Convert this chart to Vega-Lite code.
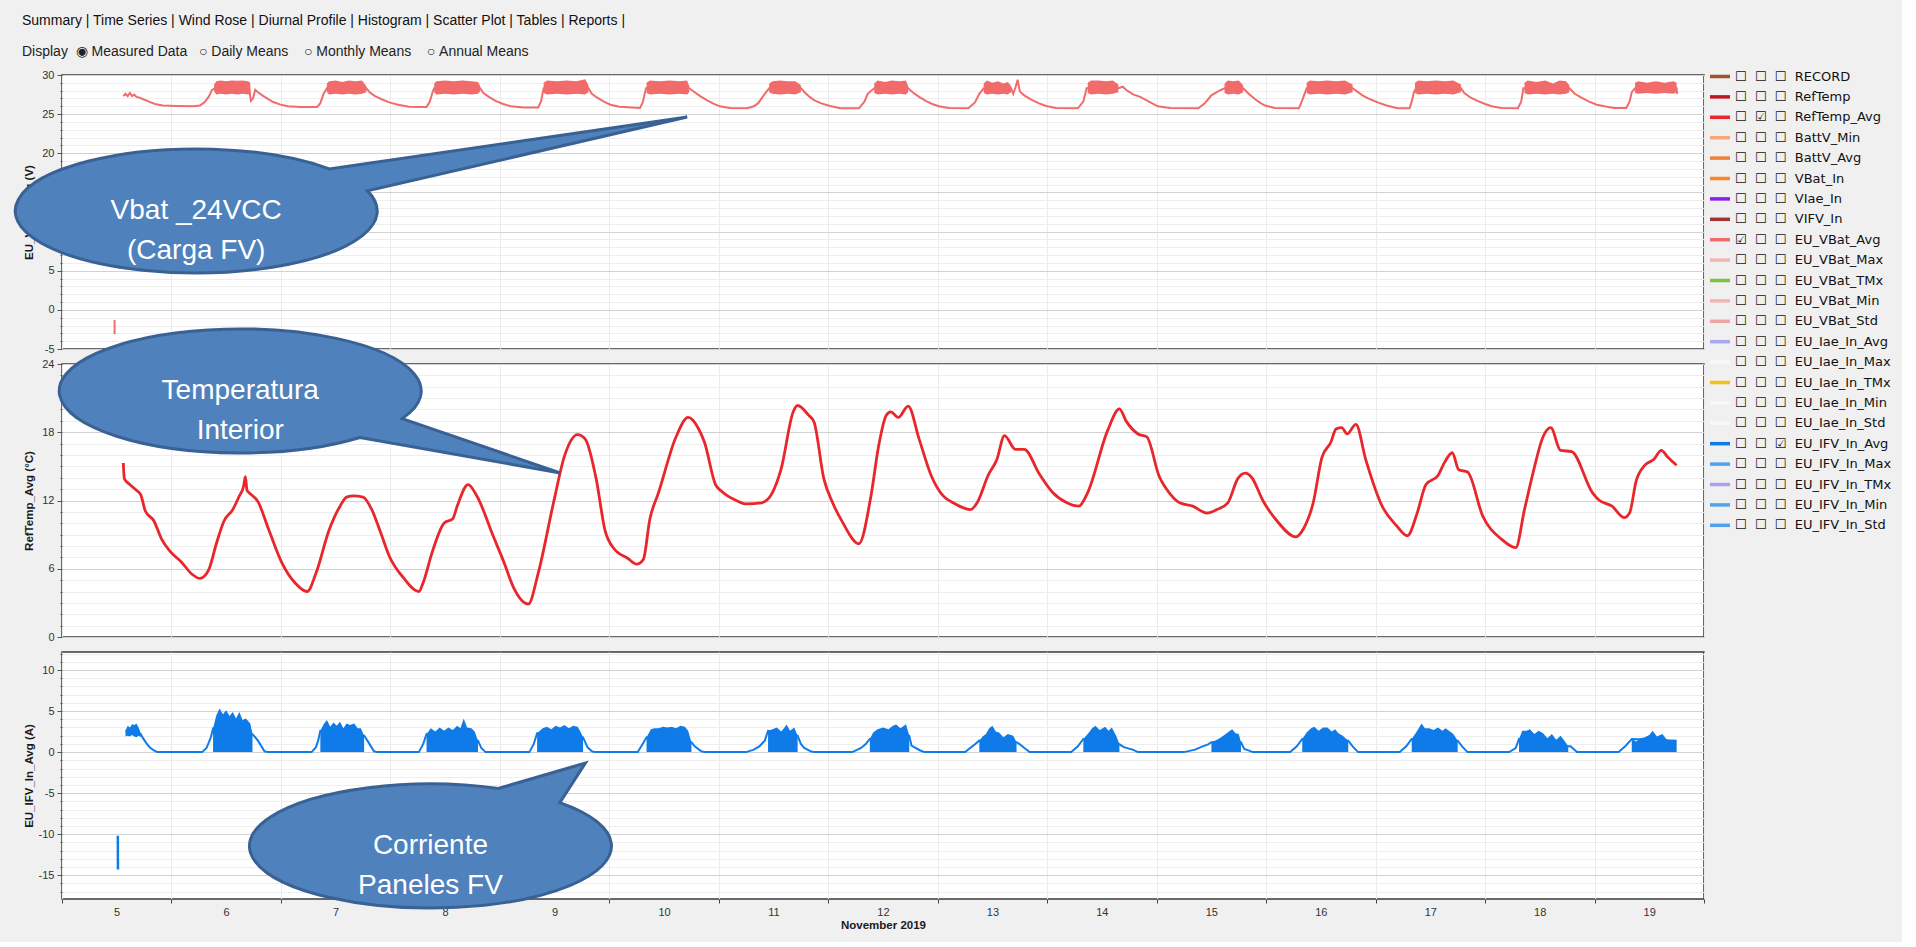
{
"$schema": "https://vega.github.io/schema/vega-lite/v6.json",
"padding": {"left": 8, "top": 14, "right": 10, "bottom": 10},
"background": "#f0f0f0",
"title": {"text": "Summary | Time Series | Wind Rose | Diurnal Profile | Histogram | Scatter Plot | Tables | Reports |", "subtitle": "Display\u00a0\u00a0◉\u00a0Measured Data\u00a0\u00a0\u00a0○\u00a0Daily Means\u00a0\u00a0\u00a0\u00a0○\u00a0Monthly Means\u00a0\u00a0\u00a0\u00a0○\u00a0Annual Means", "anchor": "start", "frame": "group", "dx": -40, "offset": 5.5, "subtitlePadding": 17, "font": "Liberation Sans", "fontSize": 14, "fontWeight": "normal", "color": "#111111", "subtitleFont": "Liberation Sans", "subtitleFontSize": 14, "subtitleColor": "#222222"},
"datasets": {
"series_list": [{"s":"RECORD"},{"s":"RefTemp"},{"s":"RefTemp_Avg"},{"s":"BattV_Min"},{"s":"BattV_Avg"},{"s":"VBat_In"},{"s":"VIae_In"},{"s":"VIFV_In"},{"s":"EU_VBat_Avg"},{"s":"EU_VBat_Max"},{"s":"EU_VBat_TMx"},{"s":"EU_VBat_Min"},{"s":"EU_VBat_Std"},{"s":"EU_Iae_In_Avg"},{"s":"EU_Iae_In_Max"},{"s":"EU_Iae_In_TMx"},{"s":"EU_Iae_In_Min"},{"s":"EU_Iae_In_Std"},{"s":"EU_IFV_In_Avg"},{"s":"EU_IFV_In_Max"},{"s":"EU_IFV_In_TMx"},{"s":"EU_IFV_In_Min"},{"s":"EU_IFV_In_Std"}],
"vbat": [{"d":5.56,"v":27.3},{"d":5.58,"v":27.6},{"d":5.6,"v":27.3},{"d":5.62,"v":27.7},{"d":5.64,"v":27.3},{"d":5.66,"v":27.5},{"d":5.68,"v":27.2},{"d":5.71,"v":27.1},{"d":5.74,"v":26.9},{"d":5.78,"v":26.7},{"d":5.82,"v":26.45},{"d":5.86,"v":26.25},{"d":5.92,"v":26.1},{"d":6.05,"v":26.05},{"d":6.2,"v":26.0},{"d":6.26,"v":26.1},{"d":6.3,"v":26.5},{"d":6.34,"v":27.2},{"d":6.37,"v":28.1},{"d":6.4,"v":28.3},{"d":6.71,"v":28.3},{"d":6.725,"v":26.7},{"d":6.745,"v":27.0},{"d":6.765,"v":28.1},{"d":6.79,"v":27.8},{"d":6.83,"v":27.4},{"d":6.88,"v":26.95},{"d":6.93,"v":26.55},{"d":6.99,"v":26.25},{"d":7.06,"v":26.0},{"d":7.18,"v":25.9},{"d":7.33,"v":25.9},{"d":7.36,"v":26.4},{"d":7.39,"v":27.6},{"d":7.42,"v":28.3},{"d":7.78,"v":28.3},{"d":7.81,"v":27.8},{"d":7.86,"v":27.3},{"d":7.92,"v":26.9},{"d":7.99,"v":26.5},{"d":8.07,"v":26.2},{"d":8.17,"v":25.95},{"d":8.33,"v":25.9},{"d":8.36,"v":26.6},{"d":8.385,"v":27.8},{"d":8.4,"v":28.3},{"d":8.82,"v":28.3},{"d":8.85,"v":27.7},{"d":8.9,"v":27.2},{"d":8.96,"v":26.7},{"d":9.03,"v":26.3},{"d":9.1,"v":26.0},{"d":9.22,"v":25.85},{"d":9.35,"v":25.85},{"d":9.375,"v":26.6},{"d":9.4,"v":28.3},{"d":9.81,"v":28.3},{"d":9.84,"v":27.6},{"d":9.89,"v":27.1},{"d":9.95,"v":26.6},{"d":10.01,"v":26.2},{"d":10.09,"v":25.95},{"d":10.28,"v":25.8},{"d":10.305,"v":26.5},{"d":10.335,"v":28.3},{"d":10.73,"v":28.3},{"d":10.77,"v":27.9},{"d":10.83,"v":27.3},{"d":10.89,"v":26.8},{"d":10.95,"v":26.35},{"d":11.01,"v":26.0},{"d":11.1,"v":25.8},{"d":11.26,"v":25.75},{"d":11.32,"v":26.0},{"d":11.36,"v":26.4},{"d":11.42,"v":27.6},{"d":11.46,"v":28.3},{"d":11.75,"v":28.3},{"d":11.79,"v":27.7},{"d":11.83,"v":27.2},{"d":11.87,"v":26.8},{"d":11.93,"v":26.4},{"d":12.0,"v":26.1},{"d":12.11,"v":25.75},{"d":12.28,"v":25.75},{"d":12.33,"v":26.6},{"d":12.36,"v":27.6},{"d":12.42,"v":28.3},{"d":12.73,"v":28.3},{"d":12.77,"v":27.8},{"d":12.83,"v":27.2},{"d":12.89,"v":26.7},{"d":12.95,"v":26.3},{"d":13.01,"v":26.0},{"d":13.1,"v":25.8},{"d":13.28,"v":25.75},{"d":13.34,"v":26.5},{"d":13.38,"v":27.6},{"d":13.42,"v":28.3},{"d":13.67,"v":28.3},{"d":13.69,"v":27.6},{"d":13.71,"v":28.4},{"d":13.73,"v":29.4},{"d":13.75,"v":27.9},{"d":13.79,"v":27.4},{"d":13.85,"v":26.9},{"d":13.92,"v":26.4},{"d":13.99,"v":26.05},{"d":14.08,"v":25.8},{"d":14.28,"v":25.75},{"d":14.33,"v":26.6},{"d":14.36,"v":28.3},{"d":14.65,"v":28.3},{"d":14.69,"v":28.5},{"d":14.73,"v":28.0},{"d":14.79,"v":27.5},{"d":14.85,"v":27.2},{"d":14.93,"v":26.6},{"d":15.01,"v":26.0},{"d":15.12,"v":25.8},{"d":15.38,"v":25.75},{"d":15.44,"v":26.4},{"d":15.5,"v":27.4},{"d":15.56,"v":27.9},{"d":15.62,"v":28.3},{"d":15.79,"v":28.3},{"d":15.84,"v":27.6},{"d":15.9,"v":26.9},{"d":15.95,"v":26.4},{"d":15.99,"v":26.1},{"d":16.08,"v":25.8},{"d":16.3,"v":25.75},{"d":16.33,"v":26.8},{"d":16.37,"v":28.3},{"d":16.79,"v":28.3},{"d":16.82,"v":28.0},{"d":16.88,"v":27.4},{"d":16.95,"v":26.9},{"d":17.02,"v":26.5},{"d":17.1,"v":26.1},{"d":17.2,"v":25.75},{"d":17.31,"v":25.75},{"d":17.33,"v":26.6},{"d":17.35,"v":27.8},{"d":17.37,"v":28.3},{"d":17.78,"v":28.3},{"d":17.81,"v":27.7},{"d":17.87,"v":27.1},{"d":17.93,"v":26.7},{"d":18.0,"v":26.3},{"d":18.06,"v":26.0},{"d":18.15,"v":25.8},{"d":18.3,"v":25.75},{"d":18.33,"v":26.6},{"d":18.35,"v":28.3},{"d":18.77,"v":28.3},{"d":18.82,"v":27.6},{"d":18.88,"v":27.1},{"d":18.95,"v":26.6},{"d":19.02,"v":26.2},{"d":19.09,"v":26.0},{"d":19.18,"v":25.8},{"d":19.29,"v":25.8},{"d":19.32,"v":26.6},{"d":19.34,"v":27.8},{"d":19.37,"v":28.3},{"d":19.75,"v":28.3},{"d":19.755,"v":27.6}],
"vbat_spike": [{"d":5.48,"v":-1.3},{"d":5.481,"v":-3.1}],
"vbat_band": [
{"b":6,"d":6.39,"v":27.9,"v2":28.8},{"b":6,"d":6.41,"v":27.5,"v2":29.2},{"b":6,"d":6.45,"v":27.6,"v2":29.3},{"b":6,"d":6.5,"v":27.5,"v2":29.2},{"b":6,"d":6.55,"v":27.6,"v2":29.3},{"b":6,"d":6.6,"v":27.5,"v2":29.25},{"b":6,"d":6.65,"v":27.6,"v2":29.3},{"b":6,"d":6.7,"v":27.5,"v2":29.2},{"b":6,"d":6.72,"v":27.6,"v2":29.0},
{"b":7,"d":7.42,"v":27.8,"v2":28.9},{"b":7,"d":7.44,"v":27.5,"v2":29.2},{"b":7,"d":7.5,"v":27.6,"v2":29.3},{"b":7,"d":7.56,"v":27.5,"v2":29.1},{"b":7,"d":7.62,"v":27.6,"v2":29.3},{"b":7,"d":7.68,"v":27.5,"v2":29.2},{"b":7,"d":7.74,"v":27.6,"v2":29.3},{"b":7,"d":7.78,"v":27.8,"v2":28.6},
{"b":8,"d":8.4,"v":27.8,"v2":28.9},{"b":8,"d":8.42,"v":27.5,"v2":29.2},{"b":8,"d":8.5,"v":27.6,"v2":29.3},{"b":8,"d":8.58,"v":27.5,"v2":29.2},{"b":8,"d":8.66,"v":27.6,"v2":29.3},{"b":8,"d":8.74,"v":27.5,"v2":29.2},{"b":8,"d":8.8,"v":27.6,"v2":29.1},{"b":8,"d":8.82,"v":27.9,"v2":28.6},
{"b":9,"d":9.4,"v":27.7,"v2":29.0},{"b":9,"d":9.43,"v":27.5,"v2":29.3},{"b":9,"d":9.52,"v":27.6,"v2":29.2},{"b":9,"d":9.61,"v":27.5,"v2":29.3},{"b":9,"d":9.7,"v":27.6,"v2":29.2},{"b":9,"d":9.78,"v":27.5,"v2":29.45},{"b":9,"d":9.81,"v":27.8,"v2":28.7},
{"b":10,"d":10.34,"v":27.7,"v2":29.0},{"b":10,"d":10.37,"v":27.5,"v2":29.3},{"b":10,"d":10.46,"v":27.6,"v2":29.2},{"b":10,"d":10.55,"v":27.5,"v2":29.3},{"b":10,"d":10.64,"v":27.6,"v2":29.2},{"b":10,"d":10.71,"v":27.5,"v2":29.3},{"b":10,"d":10.73,"v":27.8,"v2":28.6},
{"b":11,"d":11.46,"v":27.8,"v2":28.9},{"b":11,"d":11.49,"v":27.6,"v2":29.2},{"b":11,"d":11.56,"v":27.5,"v2":29.3},{"b":11,"d":11.63,"v":27.6,"v2":29.2},{"b":11,"d":11.7,"v":27.5,"v2":29.2},{"b":11,"d":11.75,"v":27.8,"v2":28.7},
{"b":12,"d":12.42,"v":27.7,"v2":28.9},{"b":12,"d":12.45,"v":27.5,"v2":29.3},{"b":12,"d":12.52,"v":27.6,"v2":29.1},{"b":12,"d":12.58,"v":27.5,"v2":29.3},{"b":12,"d":12.65,"v":27.6,"v2":29.2},{"b":12,"d":12.71,"v":27.5,"v2":29.3},{"b":12,"d":12.73,"v":27.8,"v2":28.6},
{"b":13,"d":13.42,"v":27.7,"v2":28.9},{"b":13,"d":13.45,"v":27.5,"v2":29.3},{"b":13,"d":13.5,"v":27.6,"v2":29.0},{"b":13,"d":13.55,"v":27.5,"v2":29.2},{"b":13,"d":13.6,"v":27.6,"v2":28.9},{"b":13,"d":13.64,"v":27.5,"v2":29.1},{"b":13,"d":13.67,"v":27.8,"v2":28.6},
{"b":14,"d":14.37,"v":27.7,"v2":29.0},{"b":14,"d":14.4,"v":27.5,"v2":29.3},{"b":14,"d":14.47,"v":27.6,"v2":29.3},{"b":14,"d":14.54,"v":27.5,"v2":29.2},{"b":14,"d":14.6,"v":27.6,"v2":29.3},{"b":14,"d":14.65,"v":27.8,"v2":28.8},
{"b":15,"d":15.62,"v":27.7,"v2":28.9},{"b":15,"d":15.65,"v":27.5,"v2":29.3},{"b":15,"d":15.7,"v":27.6,"v2":29.2},{"b":15,"d":15.75,"v":27.5,"v2":29.3},{"b":15,"d":15.79,"v":27.8,"v2":28.7},
{"b":16,"d":16.37,"v":27.7,"v2":29.0},{"b":16,"d":16.4,"v":27.5,"v2":29.3},{"b":16,"d":16.48,"v":27.6,"v2":29.2},{"b":16,"d":16.56,"v":27.5,"v2":29.3},{"b":16,"d":16.64,"v":27.6,"v2":29.2},{"b":16,"d":16.72,"v":27.5,"v2":29.3},{"b":16,"d":16.79,"v":27.8,"v2":28.8},
{"b":17,"d":17.36,"v":27.7,"v2":29.0},{"b":17,"d":17.39,"v":27.5,"v2":29.3},{"b":17,"d":17.47,"v":27.6,"v2":29.2},{"b":17,"d":17.55,"v":27.5,"v2":29.3},{"b":17,"d":17.63,"v":27.6,"v2":29.2},{"b":17,"d":17.71,"v":27.5,"v2":29.3},{"b":17,"d":17.78,"v":27.8,"v2":28.8},
{"b":18,"d":18.36,"v":27.7,"v2":29.0},{"b":18,"d":18.39,"v":27.5,"v2":29.3},{"b":18,"d":18.47,"v":27.6,"v2":29.1},{"b":18,"d":18.55,"v":27.5,"v2":29.3},{"b":18,"d":18.62,"v":27.6,"v2":28.9},{"b":18,"d":18.68,"v":27.5,"v2":29.3},{"b":18,"d":18.74,"v":27.6,"v2":29.2},{"b":18,"d":18.77,"v":27.8,"v2":28.7},
{"b":19,"d":19.37,"v":27.7,"v2":29.0},{"b":19,"d":19.4,"v":27.6,"v2":29.2},{"b":19,"d":19.48,"v":27.7,"v2":29.0},{"b":19,"d":19.56,"v":27.6,"v2":29.2},{"b":19,"d":19.64,"v":27.7,"v2":29.0},{"b":19,"d":19.72,"v":27.6,"v2":29.2},{"b":19,"d":19.75,"v":27.8,"v2":29.0}],
"temp": [{"d":5.56,"v":15.3},{"d":5.57,"v":13.9},{"d":5.62,"v":13.4},{"d":5.68,"v":12.9},{"d":5.72,"v":12.5},{"d":5.76,"v":11.1},{"d":5.84,"v":10.2},{"d":5.91,"v":8.6},{"d":5.99,"v":7.5},{"d":6.09,"v":6.6},{"d":6.19,"v":5.5},{"d":6.26,"v":5.15},{"d":6.34,"v":5.9},{"d":6.41,"v":8.2},{"d":6.48,"v":10.2},{"d":6.56,"v":11.2},{"d":6.62,"v":12.4},{"d":6.66,"v":13.3},{"d":6.675,"v":14.1},{"d":6.69,"v":12.9},{"d":6.72,"v":12.6},{"d":6.79,"v":11.9},{"d":6.89,"v":9.4},{"d":7.01,"v":6.5},{"d":7.13,"v":4.75},{"d":7.24,"v":4.0},{"d":7.32,"v":5.6},{"d":7.44,"v":9.4},{"d":7.54,"v":11.5},{"d":7.6,"v":12.3},{"d":7.66,"v":12.4},{"d":7.75,"v":12.3},{"d":7.83,"v":11.2},{"d":7.91,"v":9.2},{"d":7.99,"v":7.1},{"d":8.12,"v":5.2},{"d":8.26,"v":4.0},{"d":8.3,"v":4.8},{"d":8.38,"v":7.4},{"d":8.49,"v":10.0},{"d":8.57,"v":10.4},{"d":8.61,"v":11.5},{"d":8.71,"v":13.4},{"d":8.79,"v":12.4},{"d":8.94,"v":8.85},{"d":9.04,"v":6.5},{"d":9.12,"v":4.45},{"d":9.26,"v":2.9},{"d":9.35,"v":5.6},{"d":9.49,"v":11.8},{"d":9.59,"v":15.9},{"d":9.71,"v":17.8},{"d":9.78,"v":17.4},{"d":9.88,"v":13.9},{"d":9.96,"v":9.4},{"d":10.04,"v":7.8},{"d":10.17,"v":6.9},{"d":10.25,"v":6.4},{"d":10.31,"v":6.8},{"d":10.37,"v":10.35},{"d":10.45,"v":12.7},{"d":10.61,"v":17.6},{"d":10.72,"v":19.3},{"d":10.81,"v":18.4},{"d":10.87,"v":17.1},{"d":10.97,"v":13.4},{"d":11.02,"v":12.85},{"d":11.08,"v":12.4},{"d":11.16,"v":12.0},{"d":11.25,"v":11.7},{"d":11.39,"v":11.8},{"d":11.49,"v":12.7},{"d":11.57,"v":14.8},{"d":11.68,"v":19.8},{"d":11.72,"v":20.35},{"d":11.82,"v":19.5},{"d":11.87,"v":18.9},{"d":11.96,"v":13.9},{"d":12.04,"v":11.8},{"d":12.13,"v":10.1},{"d":12.28,"v":8.2},{"d":12.39,"v":12.4},{"d":12.46,"v":16.8},{"d":12.53,"v":19.5},{"d":12.57,"v":19.8},{"d":12.64,"v":19.3},{"d":12.73,"v":20.3},{"d":12.83,"v":17.4},{"d":12.94,"v":14.2},{"d":13.05,"v":12.4},{"d":13.14,"v":11.8},{"d":13.3,"v":11.2},{"d":13.36,"v":11.8},{"d":13.46,"v":14.2},{"d":13.54,"v":15.6},{"d":13.61,"v":17.7},{"d":13.71,"v":16.5},{"d":13.79,"v":16.5},{"d":13.93,"v":14.3},{"d":14.05,"v":12.7},{"d":14.18,"v":11.8},{"d":14.29,"v":11.5},{"d":14.37,"v":12.7},{"d":14.55,"v":18.1},{"d":14.66,"v":20.06},{"d":14.72,"v":19.0},{"d":14.83,"v":17.85},{"d":14.91,"v":17.6},{"d":15.02,"v":14.2},{"d":15.13,"v":12.5},{"d":15.21,"v":11.8},{"d":15.33,"v":11.5},{"d":15.46,"v":10.9},{"d":15.55,"v":11.2},{"d":15.65,"v":11.8},{"d":15.74,"v":13.9},{"d":15.81,"v":14.4},{"d":15.87,"v":14.0},{"d":15.97,"v":12.0},{"d":16.1,"v":10.2},{"d":16.27,"v":8.8},{"d":16.34,"v":9.5},{"d":16.43,"v":11.8},{"d":16.51,"v":15.8},{"d":16.59,"v":17.1},{"d":16.64,"v":18.3},{"d":16.69,"v":18.4},{"d":16.74,"v":17.85},{"d":16.82,"v":18.7},{"d":16.91,"v":15.6},{"d":17.06,"v":11.5},{"d":17.19,"v":9.8},{"d":17.29,"v":8.9},{"d":17.38,"v":10.9},{"d":17.46,"v":13.4},{"d":17.57,"v":14.2},{"d":17.63,"v":15.35},{"d":17.7,"v":16.2},{"d":17.76,"v":14.7},{"d":17.84,"v":14.5},{"d":17.98,"v":10.6},{"d":18.15,"v":8.6},{"d":18.28,"v":7.85},{"d":18.36,"v":11.2},{"d":18.44,"v":14.5},{"d":18.53,"v":17.6},{"d":18.6,"v":18.4},{"d":18.69,"v":16.4},{"d":18.79,"v":16.3},{"d":18.98,"v":12.7},{"d":19.04,"v":12.05},{"d":19.16,"v":11.5},{"d":19.27,"v":10.5},{"d":19.32,"v":10.9},{"d":19.38,"v":13.7},{"d":19.46,"v":15.1},{"d":19.54,"v":15.6},{"d":19.61,"v":16.4},{"d":19.67,"v":15.8},{"d":19.75,"v":15.1}],
"ifv": [{"d":5.58,"v":2.6},{"d":5.72,"v":2.2},{"d":5.74,"v":1.7},{"d":5.77,"v":1.1},{"d":5.8,"v":0.6},{"d":5.84,"v":0.2},{"d":5.87,"v":0.0},{"d":6.28,"v":0.0},{"d":6.32,"v":0.5},{"d":6.36,"v":1.8},{"d":6.38,"v":2.9},{"d":6.74,"v":2.2},{"d":6.79,"v":1.4},{"d":6.85,"v":0.1},{"d":6.88,"v":0.0},{"d":7.28,"v":0.0},{"d":7.32,"v":0.6},{"d":7.34,"v":1.4},{"d":7.36,"v":2.6},{"d":7.76,"v":2.0},{"d":7.79,"v":1.4},{"d":7.85,"v":0.1},{"d":7.88,"v":0.0},{"d":8.26,"v":0.0},{"d":8.3,"v":1.0},{"d":8.33,"v":2.2},{"d":8.8,"v":1.4},{"d":8.83,"v":0.5},{"d":8.87,"v":0.0},{"d":9.27,"v":0.0},{"d":9.31,"v":1.0},{"d":9.34,"v":2.3},{"d":9.76,"v":1.8},{"d":9.8,"v":0.6},{"d":9.84,"v":0.1},{"d":9.87,"v":0.0},{"d":10.26,"v":0.0},{"d":10.31,"v":1.1},{"d":10.34,"v":1.8},{"d":10.75,"v":1.2},{"d":10.78,"v":0.7},{"d":10.84,"v":0.1},{"d":10.87,"v":0.0},{"d":11.25,"v":0.0},{"d":11.32,"v":0.3},{"d":11.37,"v":0.7},{"d":11.42,"v":1.4},{"d":11.45,"v":2.6},{"d":11.72,"v":2.0},{"d":11.75,"v":1.0},{"d":11.78,"v":0.5},{"d":11.84,"v":0.1},{"d":11.87,"v":0.0},{"d":12.22,"v":0.0},{"d":12.3,"v":0.5},{"d":12.34,"v":0.95},{"d":12.38,"v":1.6},{"d":12.74,"v":2.0},{"d":12.76,"v":0.8},{"d":12.84,"v":0.2},{"d":12.88,"v":0.0},{"d":13.25,"v":0.0},{"d":13.34,"v":0.95},{"d":13.38,"v":1.4},{"d":13.72,"v":1.2},{"d":13.75,"v":0.95},{"d":13.8,"v":0.4},{"d":13.84,"v":0.0},{"d":14.22,"v":0.0},{"d":14.28,"v":0.7},{"d":14.33,"v":1.6},{"d":14.66,"v":0.95},{"d":14.7,"v":0.6},{"d":14.78,"v":0.3},{"d":14.83,"v":0.0},{"d":15.25,"v":0.0},{"d":15.35,"v":0.3},{"d":15.42,"v":0.7},{"d":15.47,"v":0.95},{"d":15.5,"v":1.2},{"d":15.77,"v":1.2},{"d":15.8,"v":0.4},{"d":15.88,"v":0.0},{"d":16.22,"v":0.0},{"d":16.28,"v":0.7},{"d":16.33,"v":1.6},{"d":16.75,"v":1.4},{"d":16.79,"v":0.7},{"d":16.84,"v":0.0},{"d":17.22,"v":0.0},{"d":17.28,"v":0.7},{"d":17.33,"v":1.6},{"d":17.75,"v":1.4},{"d":17.79,"v":0.7},{"d":17.84,"v":0.0},{"d":18.22,"v":0.0},{"d":18.28,"v":0.5},{"d":18.31,"v":1.6},{"d":18.76,"v":0.7},{"d":18.78,"v":0.7},{"d":18.84,"v":0.0},{"d":19.22,"v":0.0},{"d":19.28,"v":0.7},{"d":19.34,"v":1.6},{"d":19.75,"v":1.4}],
"ifv_spike": [{"d":5.51,"v":-10.2},{"d":5.511,"v":-14.3}],
"ifv_band": [
{"b":5,"d":5.58,"v":1.9,"v2":2.6},{"b":5,"d":5.6,"v":2.0,"v2":3.2},{"b":5,"d":5.62,"v":1.9,"v2":3.0},{"b":5,"d":5.64,"v":2.1,"v2":3.4},{"b":5,"d":5.66,"v":1.9,"v2":3.3},{"b":5,"d":5.68,"v":1.8,"v2":3.5},{"b":5,"d":5.7,"v":2.0,"v2":3.0},{"b":5,"d":5.72,"v":1.8,"v2":2.3},
{"b":6,"d":6.38,"v":0,"v2":2.9},{"b":6,"d":6.41,"v":0,"v2":4.5},{"b":6,"d":6.44,"v":0,"v2":5.3},{"b":6,"d":6.47,"v":0,"v2":4.6},{"b":6,"d":6.5,"v":0,"v2":5.1},{"b":6,"d":6.53,"v":0,"v2":4.4},{"b":6,"d":6.56,"v":0,"v2":4.9},{"b":6,"d":6.59,"v":0,"v2":4.1},{"b":6,"d":6.62,"v":0,"v2":4.9},{"b":6,"d":6.65,"v":0,"v2":3.9},{"b":6,"d":6.68,"v":0,"v2":4.1},{"b":6,"d":6.72,"v":0,"v2":3.5},{"b":6,"d":6.74,"v":0,"v2":2.2},
{"b":7,"d":7.36,"v":0,"v2":2.6},{"b":7,"d":7.39,"v":0,"v2":3.4},{"b":7,"d":7.42,"v":0,"v2":3.9},{"b":7,"d":7.45,"v":0,"v2":3.1},{"b":7,"d":7.48,"v":0,"v2":3.6},{"b":7,"d":7.51,"v":0,"v2":3.2},{"b":7,"d":7.54,"v":0,"v2":3.7},{"b":7,"d":7.57,"v":0,"v2":2.9},{"b":7,"d":7.6,"v":0,"v2":3.5},{"b":7,"d":7.63,"v":0,"v2":3.3},{"b":7,"d":7.67,"v":0,"v2":3.5},{"b":7,"d":7.7,"v":0,"v2":2.9},{"b":7,"d":7.73,"v":0,"v2":2.9},{"b":7,"d":7.76,"v":0,"v2":2.0},
{"b":8,"d":8.33,"v":0,"v2":2.2},{"b":8,"d":8.37,"v":0,"v2":2.9},{"b":8,"d":8.41,"v":0,"v2":2.5},{"b":8,"d":8.45,"v":0,"v2":3.0},{"b":8,"d":8.49,"v":0,"v2":2.6},{"b":8,"d":8.53,"v":0,"v2":3.0},{"b":8,"d":8.57,"v":0,"v2":2.7},{"b":8,"d":8.61,"v":0,"v2":3.2},{"b":8,"d":8.64,"v":0,"v2":2.9},{"b":8,"d":8.67,"v":0,"v2":4.1},{"b":8,"d":8.7,"v":0,"v2":3.0},{"b":8,"d":8.74,"v":0,"v2":2.9},{"b":8,"d":8.77,"v":0,"v2":2.5},{"b":8,"d":8.8,"v":0,"v2":1.4},
{"b":9,"d":9.34,"v":0,"v2":2.3},{"b":9,"d":9.39,"v":0,"v2":2.9},{"b":9,"d":9.43,"v":0,"v2":3.1},{"b":9,"d":9.47,"v":0,"v2":2.8},{"b":9,"d":9.51,"v":0,"v2":3.2},{"b":9,"d":9.55,"v":0,"v2":3.0},{"b":9,"d":9.59,"v":0,"v2":3.3},{"b":9,"d":9.63,"v":0,"v2":2.9},{"b":9,"d":9.67,"v":0,"v2":3.2},{"b":9,"d":9.71,"v":0,"v2":3.1},{"b":9,"d":9.74,"v":0,"v2":2.4},{"b":9,"d":9.76,"v":0,"v2":1.8},
{"b":10,"d":10.34,"v":0,"v2":1.8},{"b":10,"d":10.38,"v":0,"v2":2.8},{"b":10,"d":10.41,"v":0,"v2":2.9},{"b":10,"d":10.45,"v":0,"v2":2.9},{"b":10,"d":10.49,"v":0,"v2":3.1},{"b":10,"d":10.53,"v":0,"v2":3.0},{"b":10,"d":10.57,"v":0,"v2":3.1},{"b":10,"d":10.61,"v":0,"v2":2.9},{"b":10,"d":10.65,"v":0,"v2":3.2},{"b":10,"d":10.69,"v":0,"v2":3.1},{"b":10,"d":10.72,"v":0,"v2":2.6},{"b":10,"d":10.75,"v":0,"v2":1.2},
{"b":11,"d":11.45,"v":0,"v2":2.6},{"b":11,"d":11.49,"v":0,"v2":2.8},{"b":11,"d":11.53,"v":0,"v2":3.0},{"b":11,"d":11.57,"v":0,"v2":2.5},{"b":11,"d":11.6,"v":0,"v2":3.0},{"b":11,"d":11.62,"v":0,"v2":3.35},{"b":11,"d":11.65,"v":0,"v2":2.6},{"b":11,"d":11.69,"v":0,"v2":3.0},{"b":11,"d":11.72,"v":0,"v2":2.0},
{"b":12,"d":12.38,"v":0,"v2":1.6},{"b":12,"d":12.41,"v":0,"v2":2.4},{"b":12,"d":12.45,"v":0,"v2":2.8},{"b":12,"d":12.5,"v":0,"v2":3.0},{"b":12,"d":12.55,"v":0,"v2":2.8},{"b":12,"d":12.59,"v":0,"v2":3.2},{"b":12,"d":12.62,"v":0,"v2":3.35},{"b":12,"d":12.66,"v":0,"v2":2.9},{"b":12,"d":12.71,"v":0,"v2":3.4},{"b":12,"d":12.74,"v":0,"v2":2.0},
{"b":13,"d":13.38,"v":0,"v2":1.4},{"b":13,"d":13.41,"v":0,"v2":1.9},{"b":13,"d":13.44,"v":0,"v2":2.2},{"b":13,"d":13.47,"v":0,"v2":2.9},{"b":13,"d":13.5,"v":0,"v2":3.2},{"b":13,"d":13.53,"v":0,"v2":2.5},{"b":13,"d":13.56,"v":0,"v2":2.4},{"b":13,"d":13.6,"v":0,"v2":1.8},{"b":13,"d":13.64,"v":0,"v2":2.2},{"b":13,"d":13.69,"v":0,"v2":2.0},{"b":13,"d":13.72,"v":0,"v2":1.2},
{"b":14,"d":14.33,"v":0,"v2":1.6},{"b":14,"d":14.37,"v":0,"v2":2.2},{"b":14,"d":14.41,"v":0,"v2":2.9},{"b":14,"d":14.44,"v":0,"v2":3.2},{"b":14,"d":14.48,"v":0,"v2":2.7},{"b":14,"d":14.53,"v":0,"v2":3.1},{"b":14,"d":14.56,"v":0,"v2":2.6},{"b":14,"d":14.59,"v":0,"v2":3.0},{"b":14,"d":14.63,"v":0,"v2":2.0},{"b":14,"d":14.66,"v":0,"v2":0.95},
{"b":15,"d":15.5,"v":0,"v2":1.2},{"b":15,"d":15.55,"v":0,"v2":1.5},{"b":15,"d":15.59,"v":0,"v2":1.8},{"b":15,"d":15.63,"v":0,"v2":2.2},{"b":15,"d":15.66,"v":0,"v2":2.5},{"b":15,"d":15.69,"v":0,"v2":2.8},{"b":15,"d":15.72,"v":0,"v2":2.3},{"b":15,"d":15.75,"v":0,"v2":2.2},{"b":15,"d":15.77,"v":0,"v2":1.2},
{"b":16,"d":16.33,"v":0,"v2":1.6},{"b":16,"d":16.37,"v":0,"v2":2.4},{"b":16,"d":16.41,"v":0,"v2":2.9},{"b":16,"d":16.44,"v":0,"v2":3.1},{"b":16,"d":16.48,"v":0,"v2":2.6},{"b":16,"d":16.52,"v":0,"v2":3.0},{"b":16,"d":16.56,"v":0,"v2":3.0},{"b":16,"d":16.6,"v":0,"v2":2.5},{"b":16,"d":16.63,"v":0,"v2":2.8},{"b":16,"d":16.66,"v":0,"v2":2.3},{"b":16,"d":16.7,"v":0,"v2":2.0},{"b":16,"d":16.75,"v":0,"v2":1.4},
{"b":17,"d":17.33,"v":0,"v2":1.6},{"b":17,"d":17.37,"v":0,"v2":2.4},{"b":17,"d":17.42,"v":0,"v2":3.5},{"b":17,"d":17.45,"v":0,"v2":2.9},{"b":17,"d":17.49,"v":0,"v2":2.9},{"b":17,"d":17.53,"v":0,"v2":2.7},{"b":17,"d":17.57,"v":0,"v2":3.0},{"b":17,"d":17.61,"v":0,"v2":2.6},{"b":17,"d":17.64,"v":0,"v2":2.9},{"b":17,"d":17.67,"v":0,"v2":2.6},{"b":17,"d":17.71,"v":0,"v2":2.2},{"b":17,"d":17.75,"v":0,"v2":1.4},
{"b":18,"d":18.31,"v":0,"v2":1.6},{"b":18,"d":18.34,"v":0,"v2":2.6},{"b":18,"d":18.38,"v":0,"v2":2.6},{"b":18,"d":18.41,"v":0,"v2":2.8},{"b":18,"d":18.45,"v":0,"v2":2.2},{"b":18,"d":18.49,"v":0,"v2":2.6},{"b":18,"d":18.53,"v":0,"v2":2.3},{"b":18,"d":18.57,"v":0,"v2":1.7},{"b":18,"d":18.61,"v":0,"v2":2.2},{"b":18,"d":18.65,"v":0,"v2":1.5},{"b":18,"d":18.69,"v":0,"v2":2.0},{"b":18,"d":18.73,"v":0,"v2":1.3},{"b":18,"d":18.76,"v":0,"v2":0.7},
{"b":19,"d":19.34,"v":0,"v2":1.6},{"b":19,"d":19.38,"v":0,"v2":1.3},{"b":19,"d":19.42,"v":0,"v2":1.7},{"b":19,"d":19.46,"v":0,"v2":1.8},{"b":19,"d":19.5,"v":0,"v2":2.1},{"b":19,"d":19.53,"v":0,"v2":2.6},{"b":19,"d":19.57,"v":0,"v2":1.9},{"b":19,"d":19.62,"v":0,"v2":2.2},{"b":19,"d":19.66,"v":0,"v2":1.5},{"b":19,"d":19.7,"v":0,"v2":1.4},{"b":19,"d":19.75,"v":0,"v2":1.4}],
"notes": [{"panel":1,"d":6.226,"v":12.63,"label":"Vbat _24VCC\n(Carga FV)"},{"panel":2,"d":6.628,"v":21.63,"label":"Temperatura\nInterior"},{"panel":3,"d":8.366,"v":-11.44,"label":"Corriente\nPaneles FV"}]
},
"bounds": "flush",
"spacing": 15,
"vconcat": [
{
"width": 1642, "height": 274,
"encoding": {
"x": {"field": "d", "type": "quantitative", "scale": {"domain": [5, 20], "nice": false, "zero": false}, "axis": {"values": [5,6,7,8,9,10,11,12,13,14,15,16,17,18,19,20], "labels": false, "ticks": false, "title": null, "grid": true, "gridColor": "#ebebeb"}},
"y": {"field": "v", "type": "quantitative", "scale": {"domain": [-5, 30], "nice": false, "zero": false}, "axis": {"title": "EU_VBat_Avg (V)", "titleX": -33, "titleBaseline": "middle", "values": [-5,-4,-3,-2,-1,0,1,2,3,4,5,6,7,8,9,10,11,12,13,14,15,16,17,18,19,20,21,22,23,24,25,26,27,28,29,30], "labelExpr": "datum.value % 5 == 0 ? (datum.value < 0 ? '-' + abs(datum.value) : '' + datum.value) : ''", "gridColor": {"condition": {"test": "datum.value % 5 == 0", "value": "#d2d2d2"}, "value": "#eeeeee"}, "tickSize": {"condition": {"test": "datum.value % 5 == 0", "value": 5}, "value": 2}}}
},
"layer": [
{"data": {"name": "series_list"}, "mark": {"type": "line", "strokeWidth": 2}, "encoding": {"color": {"field": "s", "type": "nominal", "scale": {"domain": ["RECORD","RefTemp","RefTemp_Avg","BattV_Min","BattV_Avg","VBat_In","VIae_In","VIFV_In","EU_VBat_Avg","EU_VBat_Max","EU_VBat_TMx","EU_VBat_Min","EU_VBat_Std","EU_Iae_In_Avg","EU_Iae_In_Max","EU_Iae_In_TMx","EU_Iae_In_Min","EU_Iae_In_Std","EU_IFV_In_Avg","EU_IFV_In_Max","EU_IFV_In_TMx","EU_IFV_In_Min","EU_IFV_In_Std"], "range": ["#a0522d","#c0141c","#e8262b","#f5a67c","#ef7f35","#ff8424","#8b1ee8","#a23434","#f26b6b","#f4b4b4","#7cc242","#f4b4b4","#f0a4a4","#a8a8f0","#f8f8f8","#f5c012","#f8f8f8","#f8f8f8","#0f7be8","#4fa3ee","#aaa0f0","#4fa3ee","#4fa3ee"]}, "legend": {"orient": "none", "legendX": 1646, "legendY": -10.5, "title": null, "symbolType": "stroke", "symbolSize": 400, "symbolStrokeWidth": 3.5, "rowPadding": 1.4, "labelFont": "DejaVu Sans", "labelFontSize": 13, "labelColor": "#111111", "labelLimit": 400, "labelOffset": 3, "labelExpr": "(datum.label == 'RefTemp_Avg' ? '☐\u00a0\u00a0☑\u00a0\u00a0☐' : datum.label == 'EU_VBat_Avg' ? '☑\u00a0\u00a0☐\u00a0\u00a0☐' : datum.label == 'EU_IFV_In_Avg' ? '☐\u00a0\u00a0☐\u00a0\u00a0☑' : '☐\u00a0\u00a0☐\u00a0\u00a0☐') + '\u00a0\u00a0' + datum.label"}}}},
{"data": {"name": "vbat_band"}, "mark": {"type": "area", "interpolate": "linear", "opacity": 1}, "encoding": {"y2": {"field": "v2"}, "detail": {"field": "b", "type": "nominal"}, "color": {"datum": "EU_VBat_Avg", "type": "nominal", "legend": null, "scale": {"domain": ["RECORD","RefTemp","RefTemp_Avg","BattV_Min","BattV_Avg","VBat_In","VIae_In","VIFV_In","EU_VBat_Avg","EU_VBat_Max","EU_VBat_TMx","EU_VBat_Min","EU_VBat_Std","EU_Iae_In_Avg","EU_Iae_In_Max","EU_Iae_In_TMx","EU_Iae_In_Min","EU_Iae_In_Std","EU_IFV_In_Avg","EU_IFV_In_Max","EU_IFV_In_TMx","EU_IFV_In_Min","EU_IFV_In_Std"], "range": ["#a0522d","#c0141c","#e8262b","#f5a67c","#ef7f35","#ff8424","#8b1ee8","#a23434","#f26b6b","#f4b4b4","#7cc242","#f4b4b4","#f0a4a4","#a8a8f0","#f8f8f8","#f5c012","#f8f8f8","#f8f8f8","#0f7be8","#4fa3ee","#aaa0f0","#4fa3ee","#4fa3ee"]}}}},
{"data": {"name": "vbat"}, "mark": {"type": "line", "strokeWidth": 2}, "encoding": {"color": {"datum": "EU_VBat_Avg", "type": "nominal", "legend": null, "scale": {"domain": ["RECORD","RefTemp","RefTemp_Avg","BattV_Min","BattV_Avg","VBat_In","VIae_In","VIFV_In","EU_VBat_Avg","EU_VBat_Max","EU_VBat_TMx","EU_VBat_Min","EU_VBat_Std","EU_Iae_In_Avg","EU_Iae_In_Max","EU_Iae_In_TMx","EU_Iae_In_Min","EU_Iae_In_Std","EU_IFV_In_Avg","EU_IFV_In_Max","EU_IFV_In_TMx","EU_IFV_In_Min","EU_IFV_In_Std"], "range": ["#a0522d","#c0141c","#e8262b","#f5a67c","#ef7f35","#ff8424","#8b1ee8","#a23434","#f26b6b","#f4b4b4","#7cc242","#f4b4b4","#f0a4a4","#a8a8f0","#f8f8f8","#f5c012","#f8f8f8","#f8f8f8","#0f7be8","#4fa3ee","#aaa0f0","#4fa3ee","#4fa3ee"]}}}},
{"data": {"name": "vbat_spike"}, "mark": {"type": "line", "strokeWidth": 2, "color": "#f26b6b"}, "encoding": {}},
{"data": {"name": "notes"}, "transform": [{"filter": "datum.panel == 1"}], "mark": {"type": "point", "shape": "M1.7124 -0.2008 C2.0126 0.0996 1.6017 0.4292 0.7606 0.5626 C-0.0805 0.696 -1.0802 0.5901 -1.5548 0.3174 C-2.0294 0.0447 -1.8257 -0.3069 -1.0829 -0.4968 C-0.3401 -0.6867 0.7016 -0.6538 1.3302 -0.4205 L4.91 -0.94 Z", "size": 40000, "filled": true, "fill": "#4f81bd", "stroke": "#3a6193", "strokeWidth": 3, "opacity": 1}},
{"data": {"name": "notes"}, "transform": [{"filter": "datum.panel == 1"}], "mark": {"type": "text", "font": "Liberation Sans", "fontSize": 28, "color": "white", "lineBreak": "\n", "lineHeight": 40, "align": "center", "baseline": "middle"}, "encoding": {"text": {"field": "label"}}}
]
},
{
"width": 1642, "height": 273,
"encoding": {
"x": {"field": "d", "type": "quantitative", "scale": {"domain": [5, 20], "nice": false, "zero": false}, "axis": {"values": [5,6,7,8,9,10,11,12,13,14,15,16,17,18,19,20], "labels": false, "ticks": false, "title": null, "grid": true, "gridColor": "#ebebeb"}},
"y": {"field": "v", "type": "quantitative", "scale": {"domain": [0, 24], "nice": false, "zero": false}, "axis": {"title": "RefTemp_Avg (°C)", "titleX": -33, "titleBaseline": "middle", "values": [0,1,2,3,4,5,6,7,8,9,10,11,12,13,14,15,16,17,18,19,20,21,22,23,24], "labelExpr": "datum.value % 6 == 0 ? '' + datum.value : ''", "gridColor": {"condition": {"test": "datum.value % 6 == 0", "value": "#d2d2d2"}, "value": "#eeeeee"}, "tickSize": {"condition": {"test": "datum.value % 6 == 0", "value": 5}, "value": 2}}}
},
"layer": [
{"data": {"name": "temp"}, "mark": {"type": "line", "strokeWidth": 2.8, "interpolate": "monotone"}, "encoding": {"color": {"datum": "RefTemp_Avg", "type": "nominal", "legend": null, "scale": {"domain": ["RECORD","RefTemp","RefTemp_Avg","BattV_Min","BattV_Avg","VBat_In","VIae_In","VIFV_In","EU_VBat_Avg","EU_VBat_Max","EU_VBat_TMx","EU_VBat_Min","EU_VBat_Std","EU_Iae_In_Avg","EU_Iae_In_Max","EU_Iae_In_TMx","EU_Iae_In_Min","EU_Iae_In_Std","EU_IFV_In_Avg","EU_IFV_In_Max","EU_IFV_In_TMx","EU_IFV_In_Min","EU_IFV_In_Std"], "range": ["#a0522d","#c0141c","#e8262b","#f5a67c","#ef7f35","#ff8424","#8b1ee8","#a23434","#f26b6b","#f4b4b4","#7cc242","#f4b4b4","#f0a4a4","#a8a8f0","#f8f8f8","#f5c012","#f8f8f8","#f8f8f8","#0f7be8","#4fa3ee","#aaa0f0","#4fa3ee","#4fa3ee"]}}}},
{"data": {"name": "notes"}, "transform": [{"filter": "datum.panel == 2"}], "mark": {"type": "point", "shape": "M1.197 0.4651 C0.4978 0.6763 -0.5554 0.6709 -1.2362 0.4528 C-1.917 0.2347 -2.0029 -0.1248 -1.4348 -0.3779 C-0.8667 -0.631 0.1695 -0.6949 0.9598 -0.5256 C1.7501 -0.3563 2.0357 -0.0091 1.6198 0.2766 L3.2 0.82 Z", "size": 40000, "filled": true, "fill": "#4f81bd", "stroke": "#3a6193", "strokeWidth": 3, "opacity": 1}},
{"data": {"name": "notes"}, "transform": [{"filter": "datum.panel == 2"}], "mark": {"type": "text", "font": "Liberation Sans", "fontSize": 28, "color": "white", "lineBreak": "\n", "lineHeight": 40, "align": "center", "baseline": "middle"}, "encoding": {"text": {"field": "label"}}}
]
},
{
"width": 1642, "height": 247,
"encoding": {
"x": {"field": "d", "type": "quantitative", "scale": {"domain": [5, 20], "nice": false, "zero": false}, "axis": {"values": [5,6,7,8,9,10,11,12,13,14,15,16,17,18,19,20], "labelExpr": "datum.value < 20 ? '' + datum.value : ''", "labelOffset": 54.67, "tickSize": 4, "labelPadding": 3, "title": "November 2019", "titlePadding": 2, "grid": true, "gridColor": "#ebebeb", "tickColor": "#444444"}},
"y": {"field": "v", "type": "quantitative", "scale": {"domain": [-17.9, 12.2], "nice": false, "zero": false}, "axis": {"title": "EU_IFV_In_Avg (A)", "titleX": -33, "titleBaseline": "middle", "values": [-17,-16,-15,-14,-13,-12,-11,-10,-9,-8,-7,-6,-5,-4,-3,-2,-1,0,1,2,3,4,5,6,7,8,9,10,11,12], "labelExpr": "datum.value % 5 == 0 ? (datum.value < 0 ? '-' + abs(datum.value) : '' + datum.value) : ''", "gridColor": {"condition": {"test": "datum.value % 5 == 0", "value": "#d2d2d2"}, "value": "#eeeeee"}, "tickSize": {"condition": {"test": "datum.value % 5 == 0", "value": 5}, "value": 2}}}
},
"layer": [
{"data": {"name": "ifv_band"}, "mark": {"type": "area", "interpolate": "linear", "opacity": 1}, "encoding": {"y2": {"field": "v2"}, "detail": {"field": "b", "type": "nominal"}, "color": {"datum": "EU_IFV_In_Avg", "type": "nominal", "legend": null, "scale": {"domain": ["RECORD","RefTemp","RefTemp_Avg","BattV_Min","BattV_Avg","VBat_In","VIae_In","VIFV_In","EU_VBat_Avg","EU_VBat_Max","EU_VBat_TMx","EU_VBat_Min","EU_VBat_Std","EU_Iae_In_Avg","EU_Iae_In_Max","EU_Iae_In_TMx","EU_Iae_In_Min","EU_Iae_In_Std","EU_IFV_In_Avg","EU_IFV_In_Max","EU_IFV_In_TMx","EU_IFV_In_Min","EU_IFV_In_Std"], "range": ["#a0522d","#c0141c","#e8262b","#f5a67c","#ef7f35","#ff8424","#8b1ee8","#a23434","#f26b6b","#f4b4b4","#7cc242","#f4b4b4","#f0a4a4","#a8a8f0","#f8f8f8","#f5c012","#f8f8f8","#f8f8f8","#0f7be8","#4fa3ee","#aaa0f0","#4fa3ee","#4fa3ee"]}}}},
{"data": {"name": "ifv"}, "mark": {"type": "line", "strokeWidth": 2}, "encoding": {"color": {"datum": "EU_IFV_In_Avg", "type": "nominal", "legend": null, "scale": {"domain": ["RECORD","RefTemp","RefTemp_Avg","BattV_Min","BattV_Avg","VBat_In","VIae_In","VIFV_In","EU_VBat_Avg","EU_VBat_Max","EU_VBat_TMx","EU_VBat_Min","EU_VBat_Std","EU_Iae_In_Avg","EU_Iae_In_Max","EU_Iae_In_TMx","EU_Iae_In_Min","EU_Iae_In_Std","EU_IFV_In_Avg","EU_IFV_In_Max","EU_IFV_In_TMx","EU_IFV_In_Min","EU_IFV_In_Std"], "range": ["#a0522d","#c0141c","#e8262b","#f5a67c","#ef7f35","#ff8424","#8b1ee8","#a23434","#f26b6b","#f4b4b4","#7cc242","#f4b4b4","#f0a4a4","#a8a8f0","#f8f8f8","#f5c012","#f8f8f8","#f8f8f8","#0f7be8","#4fa3ee","#aaa0f0","#4fa3ee","#4fa3ee"]}}}},
{"data": {"name": "ifv_spike"}, "mark": {"type": "line", "strokeWidth": 2.5, "color": "#0f7be8"}, "encoding": {}},
{"data": {"name": "notes"}, "transform": [{"filter": "datum.panel == 3"}], "mark": {"type": "point", "shape": "M1.2932 -0.4338 C1.9423 -0.2068 1.9852 0.1516 1.3926 0.3961 C0.8 0.6406 -0.236 0.692 -1.0069 0.5152 C-1.7778 0.3384 -2.0337 -0.0092 -1.5997 -0.2901 C-1.1657 -0.571 -0.1821 -0.694 0.678 -0.5749 L1.55 -0.83 Z", "size": 40000, "filled": true, "fill": "#4f81bd", "stroke": "#3a6193", "strokeWidth": 3, "opacity": 1}},
{"data": {"name": "notes"}, "transform": [{"filter": "datum.panel == 3"}], "mark": {"type": "text", "font": "Liberation Sans", "fontSize": 28, "color": "white", "lineBreak": "\n", "lineHeight": 40, "align": "center", "baseline": "middle"}, "encoding": {"text": {"field": "label"}}}
]
}
],
"config": {
"view": {"fill": "white", "stroke": "#3a3a3a", "strokeWidth": 1.5},
"axis": {"labelFont": "Liberation Sans", "labelFontSize": 11, "labelColor": "#333333", "titleFont": "Liberation Sans", "titleFontSize": 11.5, "titleFontWeight": "bold", "titleColor": "#1a1a1a", "tickColor": "#555555", "domain": false, "labelOverlap": false, "labelFlush": false, "labelBound": false},
"axisY": {"labelPadding": 3}
}
}
